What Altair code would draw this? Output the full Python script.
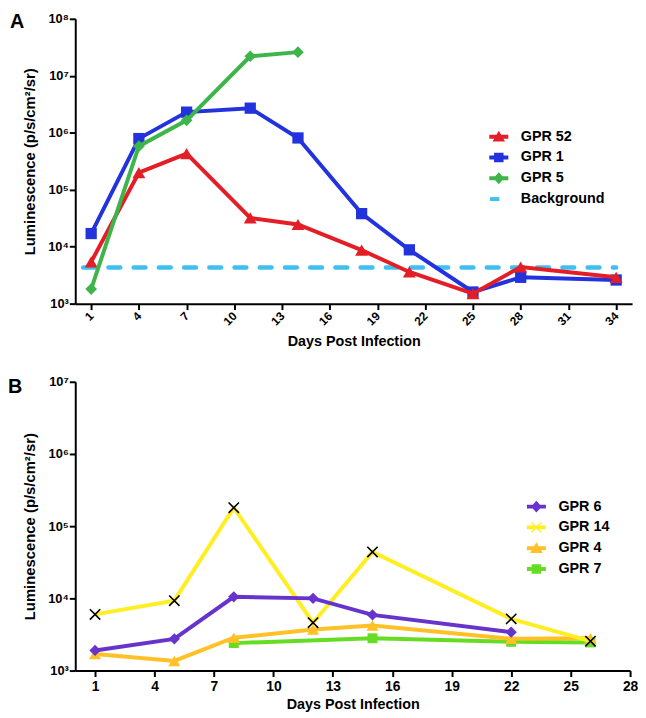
import altair as alt
import pandas as pd

FONT = "Liberation Sans"

# ---------------- Panel A data ----------------
a_days = [1, 4, 7, 11, 14, 18, 21, 25, 28, 34]
a_gpr52 = [5400, 2.0e5, 4.3e5, 3.2e4, 2.45e4, 8.7e3, 3.6e3, 1.5e3, 4.4e3, 2.9e3]
a_gpr1 = [1.7e4, 7.9e5, 2.3e6, 2.7e6, 8.1e5, 3.8e4, 8.8e3, 1.6e3, 2.9e3, 2.6e3]
a_days5 = [1, 4, 7, 11, 14]
a_gpr5 = [1.8e3, 5.8e5, 1.65e6, 2.2e7, 2.6e7]
a_bg_days = [0.5, 34]
a_bg = [4.3e3, 4.3e3]
a_series = ["GPR 52", "GPR 1", "GPR 5", "Background"]
a_colors = ["#E41E26", "#2233DD", "#3DB54A", "#3FC0F0"]
a_xticks = [1, 4, 7, 10, 13, 16, 19, 22, 25, 28, 31, 34]

# ---------------- Panel B data ----------------
b_days6 = [1, 5, 8, 12, 15, 22]
b_gpr6 = [1.9e3, 2.75e3, 1.05e4, 1.0e4, 5.9e3, 3.4e3]
b_days14 = [1, 5, 8, 12, 15, 22, 26]
b_gpr14 = [6.0e3, 9.3e3, 1.8e5, 4.6e3, 4.4e4, 5.2e3, 2.55e3]
b_days4 = [1, 5, 8, 12, 15, 22, 26]
b_gpr4 = [1.7e3, 1.36e3, 2.85e3, 3.7e3, 4.2e3, 2.75e3, 2.8e3]
b_days7 = [8, 15, 22, 26]
b_gpr7 = [2.4e3, 2.8e3, 2.5e3, 2.45e3]
b_series = ["GPR 6", "GPR 14", "GPR 4", "GPR 7"]
b_colors = ["#6633CC", "#FFEE22", "#FFC125", "#66DD22"]
b_xticks = [1, 4, 7, 10, 13, 16, 19, 22, 25, 28]

y_ticks_a = [1e3, 1e4, 1e5, 1e6, 1e7, 1e8]
y_ticks_b = [1e3, 1e4, 1e5, 1e6, 1e7]


def frame(pairs):
    rows = []
    for name, days, vals in pairs:
        for d, v in zip(days, vals):
            rows.append({"series": name, "day": d, "value": v})
    return pd.DataFrame(rows)


df_a = frame([
    ("GPR 52", a_days, a_gpr52),
    ("GPR 1", a_days, a_gpr1),
    ("GPR 5", a_days5, a_gpr5),
    ("Background", a_bg_days, a_bg),
])
df_b = frame([
    ("GPR 6", b_days6, b_gpr6),
    ("GPR 14", b_days14, b_gpr14),
    ("GPR 4", b_days4, b_gpr4),
    ("GPR 7", b_days7, b_gpr7),
])

SUP = "['⁰','¹','²','³','⁴','⁵','⁶','⁷','⁸','⁹'][round(log(datum.value)/LN10)]"

# legend symbol paths (line segment + marker)
LINE = "M-1.6,-0.33H1.6V0.33H-1.6Z"
TRI = LINE + "M0,-1L1.05,0.8H-1.05Z"
SQ = LINE + "M-0.8,-0.8H0.8V0.8H-0.8Z"
DIA = LINE + "M0,-1L0.9,0L0,1L-0.9,0Z"
XS = LINE + "M-0.9,-0.75L-0.75,-0.9L0.9,0.75L0.75,0.9ZM0.75,-0.9L0.9,-0.75L-0.75,0.9L-0.9,0.75Z"
DASH = "M-1.5,-0.33H0.1V0.33H-1.5Z"


def axes(xdom, xticks, ydom, yticks, angle):
    x = alt.X(
        "day:Q",
        scale=alt.Scale(domain=xdom, nice=False, zero=False),
        axis=alt.Axis(
            values=xticks,
            title="Days Post Infection",
            labelAngle=angle,
            labelAlign="right" if angle else "center",
            labelBaseline="middle" if angle else "top",
            labelPadding=4 if angle else 3,
            labelFontSize=12 if angle else 14,
            titlePadding=8 if angle else 4,
            titleFontSize=14.5,
        ),
    )
    y = alt.Y(
        "value:Q",
        scale=alt.Scale(type="log", domain=ydom, nice=False),
        axis=alt.Axis(
            values=yticks,
            labelExpr="'10' + " + SUP,
            title="Luminescence (p/s/cm²/sr)",
            titlePadding=10,
            labelPadding=1,
            labelFontSize=13,
            titleFontSize=15,
        ),
    )
    return x, y


def panel(df, series, colors, paths, xdom, xticks, ydom, yticks, angle,
          specs, letter, letter_xy, legend_xy):
    x, y = axes(xdom, xticks, ydom, yticks, angle)
    base = alt.Chart(df)
    layers = []
    for name, color, lk, pk in specs:
        sub = base.transform_filter(alt.datum.series == name)
        layers.append(sub.mark_line(color=color, **lk).encode(x=x, y=y))
        if pk is not None:
            layers.append(sub.mark_point(opacity=1, **pk).encode(x=x, y=y))
    leg = alt.Legend(
        orient="none", legendX=legend_xy[0], legendY=legend_xy[1], title=None,
        labelFont=FONT, labelFontSize=14.5, labelFontWeight="bold", labelColor="black",
        symbolSize=144, symbolStrokeWidth=0, symbolOpacity=1, labelOffset=15,
        rowPadding=6, padding=0,
    )
    carrier = base.transform_filter("false").mark_point(filled=True).encode(
        x=x, y=y,
        color=alt.Color("series:N", scale=alt.Scale(domain=series, range=colors),
                        sort=series, legend=leg),
        shape=alt.Shape("series:N", scale=alt.Scale(domain=series, range=paths),
                        sort=series, legend=leg),
    )
    lab = alt.Chart(pd.DataFrame({"t": [letter]})).mark_text(
        font=FONT, fontSize=20, fontWeight="bold", align="left",
        baseline="alphabetic", color="black",
    ).encode(text="t:N", x=alt.value(letter_xy[0]), y=alt.value(letter_xy[1]))
    return alt.layer(*layers, carrier, lab)


lw = {"strokeWidth": 4}
specs_a = [
    ("Background", "#3FC0F0", {"strokeWidth": 4.5, "strokeDash": [12, 13.5], "strokeCap": "round"}, None),
    ("GPR 1", "#2233DD", lw, {"shape": "square", "filled": True, "color": "#2233DD", "size": 130}),
    ("GPR 52", "#E41E26", lw, {"shape": "triangle-up", "filled": True, "color": "#E41E26", "size": 170}),
    ("GPR 5", "#3DB54A", lw, {"shape": "diamond", "filled": True, "color": "#3DB54A", "size": 140}),
]
specs_b = [
    ("GPR 7", "#66DD22", lw, {"shape": "square", "filled": True, "color": "#66DD22", "size": 100}),
    ("GPR 4", "#FFC125", lw, {"shape": "triangle-up", "filled": True, "color": "#FFC125", "size": 150}),
    ("GPR 14", "#FFEE22", lw, {"shape": "M-1,-1L1,1M-1,1L1,-1", "filled": False, "color": "black",
                               "strokeWidth": 1.6, "size": 110}),
    ("GPR 6", "#6633CC", lw, {"shape": "diamond", "filled": True, "color": "#6633CC", "size": 130}),
]

chart_a = panel(df_a, a_series, a_colors, [TRI, SQ, DIA, DASH], [0, 35], a_xticks,
                [1e3, 1e8], y_ticks_a, -45, specs_a, "A", (-66, 9), (421, 112)).properties(
    width=563, height=288)
chart_b = panel(df_b, b_series, b_colors, [DIA, XS, TRI, SQ], [0, 28], b_xticks,
                [1e3, 1e7], y_ticks_b, 0, specs_b, "B", (-68, 11), (459, 119)).properties(
    width=561, height=292)

chart = alt.vconcat(chart_a, chart_b, spacing=27).resolve_scale(
    color="independent", shape="independent").resolve_legend(
    color="independent", shape="independent").properties(padding=0).configure_view(
    stroke=None).configure_axis(
    grid=False, domainColor="black", domainWidth=2, tickColor="black", tickWidth=2,
    tickSize=6, labelFont=FONT, labelFontWeight="bold", labelColor="black",
    titleFont=FONT, titleFontWeight="bold", titleColor="black",
)

chart.save("out.html", embed_options={"renderer": "svg", "actions": False})
